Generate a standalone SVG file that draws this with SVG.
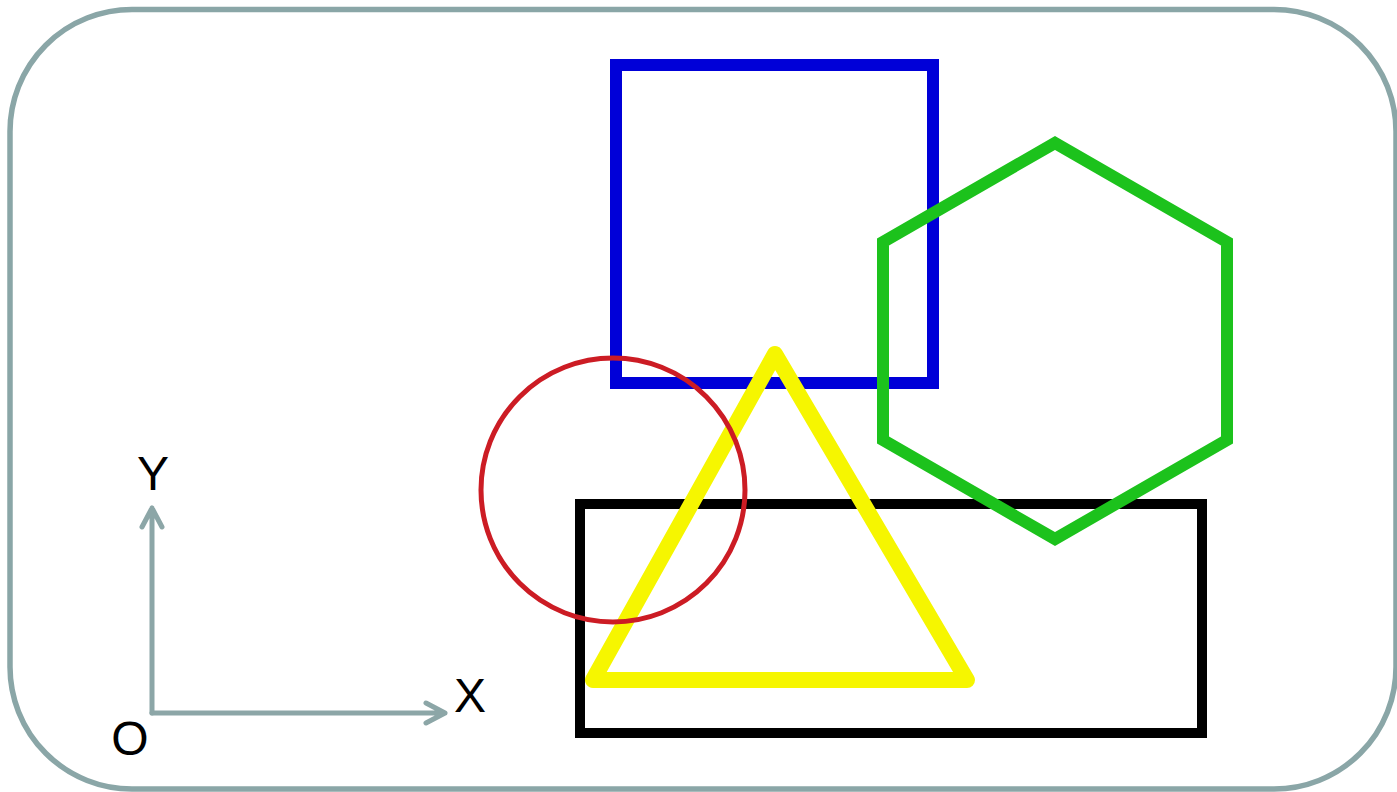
<svg xmlns="http://www.w3.org/2000/svg" width="1397" height="792" viewBox="0 0 1397 792">
<style>
.frame{fill:none;stroke:#8aa6a7;stroke-width:5.5}
.axis{fill:none;stroke:#8ca6a7;stroke-width:5;stroke-linecap:round;stroke-linejoin:round}
.lbl{font-family:"Liberation Sans",Arial,sans-serif;font-size:48px;fill:#000}
</style>
<rect width="1397" height="792" fill="#fff"/>
<rect id="frame" class="frame" x="10" y="9.5" width="1386" height="779.5" rx="122" ry="122"/>
<g id="black-rect"><rect x="580" y="504" width="622" height="229" fill="none" stroke="#000" stroke-width="10"/></g>
<g id="blue-square"><rect x="616" y="65" width="317" height="318" fill="none" stroke="#0000d8" stroke-width="12"/></g>
<g id="green-hexagon"><polygon points="1055,143 1227,242 1227,440 1055,539 883,440 883,242" fill="none" stroke="#1cc21c" stroke-width="12"/></g>
<g id="yellow-triangle"><polygon points="775,354 593,680 967,680" fill="none" stroke="#f6f600" stroke-width="16" stroke-linejoin="round"/></g>
<g id="red-circle"><circle cx="613" cy="490" r="132" fill="none" stroke="#cc1c24" stroke-width="5"/></g>
<g id="connectors">
<path class="axis" d="M152,713 V508 M142,527 L152,508 L162,527"/>
<path class="axis" d="M152,713 H445 M426,703 L445,713 L426,723"/>
</g>
<g id="labels">
<text class="lbl" x="153" y="490" text-anchor="middle">Y</text>
<text class="lbl" x="470" y="712" text-anchor="middle">X</text>
<text class="lbl" x="130" y="755" text-anchor="middle">O</text>
</g>
</svg>
